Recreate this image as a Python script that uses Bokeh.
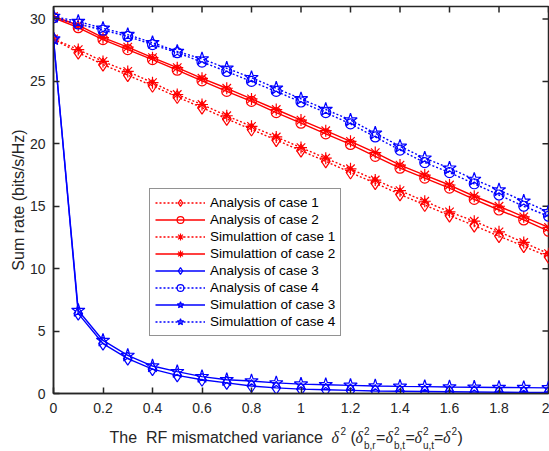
import math
from bokeh.plotting import figure
from bokeh.models import Range1d, FixedTicker, Legend, LegendItem
from bokeh.layouts import column
from bokeh.core.properties import value
from bokeh.embed import file_html
from bokeh.resources import INLINE

# ---------------- data ----------------
x_vals = [0.0, 0.1, 0.2, 0.3, 0.4, 0.5, 0.6, 0.7, 0.8, 0.9, 1.0,
          1.1, 1.2, 1.3, 1.4, 1.5, 1.6, 1.7, 1.8, 1.9, 2.0]

analysis_case1 = [28.4, 27.3, 26.35, 25.5, 24.65, 23.75, 22.9, 22.0, 21.15, 20.3, 19.45,
                  18.6, 17.7, 16.85, 15.95, 15.1, 14.25, 13.45, 12.6, 11.8, 10.95]
analysis_case2 = [30.1, 29.3, 28.35, 27.55, 26.75, 25.9, 25.05, 24.2, 23.4, 22.5, 21.65,
                  20.8, 19.95, 19.0, 18.05, 17.25, 16.45, 15.55, 14.7, 13.9, 13.0]
simulation_case1 = [28.4, 27.55, 26.6, 25.8, 24.9, 23.95, 23.15, 22.25, 21.4, 20.55, 19.7,
                    18.85, 18.0, 17.1, 16.25, 15.4, 14.55, 13.8, 12.95, 12.1, 11.2]
simulation_case2 = [30.2, 29.5, 28.5, 27.75, 26.9, 26.1, 25.25, 24.45, 23.6, 22.75, 21.9,
                    21.05, 20.2, 19.3, 18.3, 17.5, 16.7, 15.8, 15.0, 14.15, 13.3]
analysis_case3 = [28.4, 6.4, 4.0, 2.8, 1.95, 1.45, 1.1, 0.85, 0.6, 0.45, 0.35,
                  0.3, 0.25, 0.2, 0.18, 0.16, 0.14, 0.12, 0.1, 0.09, 0.08]
analysis_case4 = [30.1, 29.6, 29.1, 28.6, 27.95, 27.3, 26.55, 25.8, 25.0, 24.2, 23.35,
                  22.5, 21.6, 20.55, 19.5, 18.5, 17.7, 16.8, 15.9, 15.0, 14.2]
simulation_case3 = [28.4, 6.65, 4.25, 3.05, 2.2, 1.75, 1.35, 1.1, 1.0, 0.85, 0.75,
                    0.7, 0.65, 0.6, 0.57, 0.55, 0.52, 0.5, 0.48, 0.47, 0.45]
simulation_case4 = [30.2, 29.8, 29.25, 28.75, 28.1, 27.4, 26.8, 26.05, 25.3, 24.45, 23.6,
                    22.75, 21.9, 20.85, 19.8, 18.85, 18.05, 17.15, 16.3, 15.4, 14.55]

series_labels = ["Analysis of case 1", "Analysis of case 2",
                 "Simulattion of case 1", "Simulattion of case 2",
                 "Analysis of case 3", "Analysis of case 4",
                 "Simulattion of case 3", "Simulattion of case 4"]

x_ticks = [0, 0.2, 0.4, 0.6, 0.8, 1.0, 1.2, 1.4, 1.6, 1.8, 2.0]
x_tick_labels = ["0", "0.2", "0.4", "0.6", "0.8", "1", "1.2", "1.4", "1.6", "1.8", "2"]
y_ticks = [0, 5, 10, 15, 20, 25, 30]
y_tick_labels = ["0", "5", "10", "15", "20", "25", "30"]
x_min, x_max = 0, 2
y_min, y_max = 0, 31

y_axis_title = "Sum rate (bits/s/Hz)"
x_title_main = "The\u00a0 RF mismatched variance"

# ---------------- main figure ----------------
AX = "#262626"
FONT = "Liberation Sans"
SERIF = "Liberation Serif"
LEFT, RIGHT = 53, 1           # borders so the frame spans page x 53..548

p = figure(frame_width=495, frame_height=387, output_backend="svg", toolbar_location=None,
           x_range=Range1d(x_min, x_max), y_range=Range1d(y_min, y_max),
           min_border_left=LEFT, min_border_right=RIGHT, min_border_top=6,
           min_border_bottom=28)
p.background_fill_color = "white"
p.border_fill_color = "white"
p.outline_line_color = AX
p.outline_line_width = 1.5
p.xgrid.visible = False
p.ygrid.visible = False

for ax, ticks, labels in ((p.xaxis[0], x_ticks, x_tick_labels),
                          (p.yaxis[0], y_ticks, y_tick_labels)):
    ax.ticker = FixedTicker(ticks=ticks)
    ax.major_label_overrides = {t: l for t, l in zip(ticks, labels)}
    ax.minor_tick_line_color = None
    ax.major_tick_in = 6
    ax.major_tick_out = 0
    ax.major_tick_line_color = AX
    ax.major_tick_line_width = 1.5
    ax.axis_line_color = AX
    ax.axis_line_width = 1.5
    ax.major_label_text_font = FONT
    ax.major_label_text_font_size = "14px"
    ax.major_label_text_color = AX
p.xaxis[0].major_label_standoff = 9
p.yaxis[0].major_label_standoff = 8

p.yaxis[0].axis_label = y_axis_title
p.yaxis[0].axis_label_text_font = FONT
p.yaxis[0].axis_label_text_font_size = "16px"
p.yaxis[0].axis_label_text_font_style = "normal"
p.yaxis[0].axis_label_text_color = AX
p.yaxis[0].axis_label_standoff = 0

# inward ticks on the top and right edges of the box
p.ray(x=x_ticks, y=[y_max] * len(x_ticks), length=6, length_units="screen",
      angle=-math.pi / 2, line_color=AX, line_width=1.5)
p.ray(x=[x_max] * len(y_ticks), y=y_ticks, length=6, length_units="screen",
      angle=math.pi, line_color=AX, line_width=1.5)

RED = "#ff0000"
BLUE = "#0000ff"
series = [
    (analysis_case1, RED, "dotted", "diamond", 13),
    (analysis_case2, RED, "solid", "circle", 10),
    (simulation_case1, RED, "dotted", "asterisk", 12),
    (simulation_case2, RED, "solid", "asterisk", 12),
    (analysis_case3, BLUE, "solid", "diamond", 13),
    (analysis_case4, BLUE, "dotted", "circle", 10),
    (simulation_case3, BLUE, "solid", "star", 14),
    (simulation_case4, BLUE, "dotted", "star", 14),
]

items = []
for (ys, col, dash, marker, size), name in zip(series, series_labels):
    ln = p.line(x_vals, ys, line_color=col, line_width=1.4,
                line_dash=("2 2" if dash == "dotted" else "solid"))
    sc = p.scatter(x_vals, ys, marker=marker, size=size, line_color=col,
                   fill_color=None, line_width=1.2)
    items.append(LegendItem(label=name, renderers=[ln, sc]))

legend = Legend(items=items, location=(96, 57))
legend.label_text_font = FONT
legend.label_text_font_size = "13.5px"
legend.label_text_color = "#000000"
legend.border_line_color = AX
legend.border_line_width = 1
legend.background_fill_color = "white"
legend.background_fill_alpha = 1
legend.padding = 5
legend.margin = 0
legend.spacing = 0
legend.glyph_width = 50
legend.glyph_height = 17
legend.label_height = 17
legend.label_standoff = 5
p.add_layout(legend)

# ---------------- x-axis title strip (with super/subscripts) ----------------
# The strip's frame lines up with the main frame, so its x range is the page x of that frame.
STRIP_H = 30
t = figure(frame_width=495, frame_height=STRIP_H, output_backend="svg", toolbar_location=None,
           x_range=Range1d(LEFT, 549 - RIGHT), y_range=Range1d(STRIP_H, 0),
           x_axis_location=None, y_axis_location=None,
           min_border_left=LEFT, min_border_right=RIGHT, min_border_top=0, min_border_bottom=0)
t.outline_line_color = None
t.xgrid.visible = False
t.ygrid.visible = False
t.background_fill_color = "white"
t.border_fill_color = "white"

B, SUP, SUB = 16, 9, 24       # baselines inside the strip (page y 437, 430, 445)

main_pieces = [(x_title_main, 109), ("(", 350), ("=", 375.5), ("=", 405),
               ("=", 433.5), (")", 457)]
delta_pieces = [331, 355, 385, 414, 442.5]
sup_pieces = [340, 363.5, 393.5, 422.5, 451]
sub_pieces = [("b,r", 363.5), ("b,t", 393.5), ("u,t", 422.5)]

common = dict(text_baseline="alphabetic", text_align="left", text_color=AX)
t.text(x=[xx for _, xx in main_pieces], y=[B] * len(main_pieces),
       text=[s for s, _ in main_pieces], text_font=value(FONT),
       text_font_size=value("16px"), **common)
t.text(x=delta_pieces, y=[B] * len(delta_pieces),
       text=["\u03b4"] * len(delta_pieces), text_font=value(SERIF),
       text_font_style="italic", text_font_size=value("16px"), **common)
t.text(x=sup_pieces, y=[SUP] * len(sup_pieces),
       text=["2"] * len(sup_pieces), text_font=value(FONT),
       text_font_size=value("10px"), **common)
t.text(x=[xx for _, xx in sub_pieces], y=[SUB] * len(sub_pieces),
       text=[s for s, _ in sub_pieces], text_font=value(FONT),
       text_font_size=value("10px"), **common)

layout = column(p, t, spacing=0)
open("out.html", "w").write(file_html(layout, INLINE))
